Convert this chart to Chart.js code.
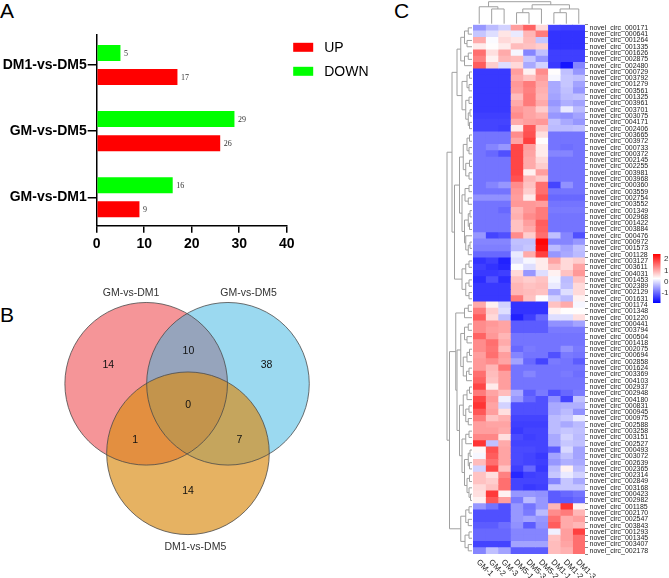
<!DOCTYPE html>
<html>
<head>
<meta charset="utf-8">
<script src="https://cdn.jsdelivr.net/npm/chart.js@4.4.1/dist/chart.umd.min.js"></script>
<style>
  html, body { margin: 0; padding: 0; background: #fff; width: 669px; height: 578px; overflow: hidden; }
  body { position: relative; font-family: "Liberation Sans", Arial, sans-serif; }
  canvas { position: absolute; }
  #chartA { left: 0; top: 0; }
  #chartB { left: 0; top: 278px; }
  #chartC { left: 340px; top: 0; }
  .tag { position: absolute; font-size: 21px; line-height: 21px; color: #000; }
</style>
</head>
<body>
<div class="tag" style="left:0px;top:0px;">A</div>
<div class="tag" style="left:0px;top:304px;">B</div>
<div class="tag" style="left:394px;top:0px;">C</div>
<canvas id="chartA" width="400" height="290"></canvas>
<canvas id="chartB" width="340" height="300"></canvas>
<canvas id="chartC" width="329" height="578"></canvas>
<script>
/*
|--------------------------------------------------------------------------
| Data
|--------------------------------------------------------------------------
*/

// Panel A: differential circRNA counts per comparison
const barCategories = ['DM1-vs-DM5', 'GM-vs-DM5', 'GM-vs-DM1'];
const upCounts = [17, 26, 9];
const downCounts = [5, 29, 16];

// Panel B: Venn diagram (set names, circle centres in radius units, region counts)
const vennSets = ['GM-vs-DM1', 'GM-vs-DM5', 'DM1-vs-DM5'];
const vennCentres = [{ x: 0, y: 0 }, { x: 1.006, y: 0 }, { x: 0.514, y: -0.855 }];
const vennRadius = 1;
const vennCounts = [14, 10, 38, 0, 1, 7, 14];
const vennCountPos = [
  { x: -0.465, y: 0.235 }, { x: 0.52, y: 0.405 }, { x: 1.48, y: 0.235 },
  { x: 0.515, y: -0.26 }, { x: -0.135, y: -0.69 }, { x: 1.148, y: -0.69 }, { x: 0.515, y: -1.32 }
];
const vennLabelPos = [{ x: -0.185, y: 1.12 }, { x: 1.259, y: 1.12 }, { x: 0.605, y: -2.012 }];

// Panel C: heatmap
const heatCols = ['GM-1', 'GM-2', 'GM-3', 'DM5-1', 'DM5-3', 'DM5-2', 'DM1-1', 'DM1-2', 'DM1-3'];
const heatRows = [
  '000171', '000641', '001264', '001335', '001626', '002875', '002480', '000729', '003792', '001279',
  '003561', '001325', '003961', '003701', '003075', '004171', '002406', '003665', '003972', '000733',
  '000372', '002145', '002255', '003981', '003968', '000360', '003559', '002754', '003552', '001349',
  '002968', '001422', '003884', '000476', '000972', '001573', '001128', '003127', '003611', '004031',
  '001453', '002389', '002129', '001631', '001174', '001348', '001220', '000441', '003794', '000504',
  '001418', '002075', '000694', '002858', '001624', '003369', '004103', '002937', '002948', '004180',
  '000831', '000945', '000975', '002588', '003258', '003151', '002527', '000493', '003072', '002639',
  '002365', '002314', '002849', '003168', '000423', '002982', '001185', '002170', '002547', '003843',
  '001293', '001345', '003407', '002178'
].map(id => 'novel_circ_' + id);

const heatValues = [
  [-0.6, -0.3, -0.1, 1.1, 1.6, 0.6, -1.3, -1.35, -1.35],
  [-0.2, 0, 0.5, 0.1, 0.9, 1.4, -1.45, -1.45, -1.45],
  [1.0, 0.25, 0.6, 0.5, 0.85, -0.2, -1.45, -1.45, -1.45],
  [0.45, 0.3, 0.45, 0.85, 0.8, 0.7, -1.45, -1.45, -1.45],
  [1.5, 0.55, 1.0, 0.2, -0.75, -0.25, -1.35, -1.35, -1.35],
  [1.35, 0.4, 0.9, 0.85, -0.2, -0.6, -1.35, -1.35, -1.35],
  [1.65, 0.7, 0.0, 0.6, -0.45, -0.1, -1.4, -1.7, -0.75],
  [-1.4, -1.4, -1.4, 1.1, 0.4, 1.25, 0.3, -0.25, -0.6],
  [-1.4, -1.4, -1.4, 1.0, 0.8, 1.1, 0.2, -0.2, -0.25],
  [-1.4, -1.4, -1.4, 1.15, 1.4, 1.0, -0.45, -0.2, -0.5],
  [-1.4, -1.4, -1.4, 1.1, 1.35, 0.95, -0.45, -0.25, -0.6],
  [-1.4, -1.4, -1.4, 0.85, 1.4, 0.9, -0.5, -0.3, -0.25],
  [-1.4, -1.4, -1.4, 1.0, 1.4, 1.0, -0.6, -0.4, -0.5],
  [-1.4, -1.4, -1.4, 1.15, 1.05, 0.7, -0.45, 0.1, -0.3],
  [-1.35, -1.35, -1.35, 1.25, 1.05, 0.95, -0.6, -0.65, -0.5],
  [-1.3, -1.3, -1.3, 1.0, 1.1, 1.15, -0.25, -0.45, -0.6],
  [-1.3, -1.3, -1.35, 0.45, 1.7, 0.8, -0.3, -0.3, -0.25],
  [-0.9, -0.9, -0.9, 1.25, 1.75, 0.55, -0.9, -0.9, -0.9],
  [-0.9, -0.9, -0.9, 1.05, 1.9, 0.3, -0.9, -0.9, -0.9],
  [-0.9, -0.75, -0.6, 1.85, 1.1, 0.45, -0.9, -0.95, -0.9],
  [-0.9, -1.0, -1.2, 1.85, 1.05, 0.45, -0.75, -0.75, -0.9],
  [-0.9, -0.9, -0.9, 1.85, 1.0, 0.6, -0.9, -0.9, -0.9],
  [-0.9, -0.9, -0.9, 1.85, 1.0, 0.7, -0.9, -0.9, -0.9],
  [-0.9, -0.9, -0.9, 1.85, 0.4, 1.1, -0.9, -0.9, -0.9],
  [-0.9, -0.9, -0.9, 1.75, 0.9, 0.75, -0.9, -0.9, -0.9],
  [-0.9, -0.75, -0.6, 1.25, 0.8, 1.5, -1.3, -0.65, -0.9],
  [-0.9, -0.9, -0.9, 1.15, 0.7, 1.5, -0.9, -0.9, -0.9],
  [-0.65, -0.65, -0.65, 1.1, 0.45, 1.7, -1.0, -1.0, -1.0],
  [-0.9, -0.9, -0.9, 1.15, 1.15, 1.1, -0.9, -0.9, -0.9],
  [-0.9, -0.9, -1.0, 0.9, 1.15, 1.4, -0.85, -0.85, -0.85],
  [-0.9, -0.9, -0.9, 0.95, 1.25, 1.4, -0.9, -0.9, -0.9],
  [-0.9, -0.9, -0.9, 0.8, 1.1, 1.65, -0.9, -0.9, -0.9],
  [-0.9, -0.9, -0.9, 0.8, 1.0, 1.6, -0.9, -0.9, -0.9],
  [-0.6, -1.3, -1.2, 1.25, 0.7, 1.5, -0.25, -0.75, -1.2],
  [-0.75, -0.75, -0.75, -0.25, -0.25, 2.4, -0.75, -0.75, -0.6],
  [-0.8, -0.8, -0.8, -0.3, -0.2, 2.3, -0.3, -0.5, -0.25],
  [-1.0, -1.0, -1.0, 0.1, 1.0, 1.9, -0.6, -0.45, -0.3],
  [-1.45, -1.35, -1.6, 0.0, 0.2, 0.45, 1.05, 0.6, 0.7],
  [-1.35, -1.45, -1.55, 0.25, 0.0, 0.45, 0.8, 0.6, 1.05],
  [-1.4, -1.4, -1.35, 0.6, -0.6, 0.0, 0.4, 0.8, 1.15],
  [-1.5, -1.2, -1.5, 0.8, 0.7, 0.8, 0.2, -0.3, 0.8],
  [-1.4, -1.4, -1.4, 0.9, 0.8, 0.85, 0.1, -0.25, 0.6],
  [-1.4, -1.4, -1.4, 0.9, 0.85, 0.8, -0.45, 0.0, 0.6],
  [-1.4, -1.4, -1.4, 1.4, 0.8, 0.3, -0.1, -0.3, 0.4],
  [1.0, 0.4, -0.1, -1.45, -1.45, -1.45, 0.8, 1.0, 0.2],
  [1.4, 0.7, 0.0, -1.45, -1.45, -1.45, 0.4, 0.3, 0.3],
  [1.65, 0.6, -0.3, -1.6, -1.35, -1.0, 0.0, 0.0, 0.55],
  [1.25, 1.15, 1.05, -1.1, -1.1, -1.1, -0.65, -0.65, -0.5],
  [1.25, 1.1, 1.05, -1.1, -1.1, -1.1, -0.85, -0.85, -0.85],
  [1.6, 1.15, 0.9, -0.9, -0.9, -0.9, -0.9, -0.9, -0.9],
  [1.25, 1.5, 1.0, -0.9, -0.9, -0.9, -0.9, -0.9, -0.9],
  [1.25, 1.45, 0.85, -1.0, -0.85, -0.9, -0.9, -0.65, -0.85],
  [1.1, 1.5, 1.1, -0.75, -0.9, -0.9, -1.2, -0.85, -0.9],
  [1.15, 1.25, 1.05, -0.5, -1.0, -1.3, -0.85, -0.9, -1.1],
  [1.15, 0.9, 1.45, -0.9, -0.9, -0.9, -0.9, -0.9, -0.9],
  [1.5, 0.85, 1.1, -0.9, -0.75, -0.9, -0.9, -0.85, -0.95],
  [1.6, 0.8, 1.1, -0.9, -0.9, -0.9, -0.9, -0.9, -0.9],
  [1.85, 0.45, 1.1, -0.9, -0.9, -0.9, -0.9, -0.9, -0.9],
  [1.4, 1.05, 0.85, -0.45, -1.1, -0.85, -1.2, -1.0, -0.85],
  [1.85, 1.15, 0.15, -0.6, -1.0, -1.2, -0.65, -1.3, -0.25],
  [2.0, 1.05, -0.1, -1.2, -1.2, -1.2, -0.45, -0.4, -0.4],
  [1.7, 1.1, 0.55, -1.2, -1.2, -1.2, -0.45, -0.3, -0.65],
  [1.4, 0.8, 0.95, -1.3, -1.3, -1.3, -0.3, -0.2, 0.1],
  [1.1, 1.05, 1.05, -1.35, -1.35, -1.35, -0.3, -0.45, -0.3],
  [1.1, 1.1, 1.0, -1.4, -1.3, -1.3, -0.3, -0.2, -0.25],
  [1.3, 1.3, 0.55, -1.25, -1.35, -1.3, -0.45, -0.1, -0.3],
  [2.0, -0.25, 1.0, -1.3, -1.3, -1.3, -0.45, -0.2, -0.25],
  [0.35, 1.75, 1.05, -1.25, -1.25, -1.3, -1.1, -0.05, -0.5],
  [0.2, 1.65, 1.05, -1.25, -1.3, -1.4, -0.5, -0.25, -0.5],
  [0.85, 1.5, 1.05, -1.25, -1.3, -1.35, -0.6, -0.4, -0.45],
  [-0.1, 1.85, 0.8, -1.35, -1.0, -1.4, -0.3, 0.4, -0.3],
  [0.8, 0.55, 1.35, -1.55, -1.35, -1.3, -0.2, 0.1, -0.1],
  [0.8, 0.7, 1.5, -1.3, -1.3, -1.3, -0.75, -0.2, -0.45],
  [0.6, 0.8, 1.5, -1.3, -1.4, -1.35, -0.2, -0.2, -0.2],
  [0.55, 1.95, 0.4, -0.6, -0.6, -0.65, -1.1, -1.0, -0.9],
  [0.4, 1.7, 1.1, -0.85, -0.3, -0.6, -1.1, -1.1, -1.0],
  [-0.6, -0.9, -1.2, -0.6, -0.9, -0.6, 0.9, 2.0, 0.4],
  [-1.2, -1.2, -1.2, -0.6, -0.85, -0.3, 1.25, 1.4, 0.9],
  [-1.2, -1.2, -1.2, -0.6, -0.5, -0.6, 1.5, 1.0, 1.1],
  [-1.1, -1.1, -0.95, -0.65, -1.1, -0.65, 1.65, 1.0, 0.9],
  [-1.0, -1.0, -1.0, -0.75, -0.75, -0.75, 0.15, 1.1, 1.9],
  [-1.0, -1.0, -1.0, -0.75, -0.75, -0.75, 0.8, 1.1, 1.5],
  [-1.3, -1.3, -1.3, -0.5, -0.5, -0.5, 0.85, 1.05, 1.5],
  [-0.75, -0.25, -0.5, -1.1, -1.1, -1.1, 0.85, 0.95, 1.5]
];

// Dendrograms: [mergeHeight, left, right], leaves are row / column indexes
const colTree = [1.0, [0.77, 0, [0.67, 1, 2]], [0.86, [0.67, [0.5, 3, 4], 5], [0.67, [0.5, 6, 7], 8]]];
const rowTree = [1.0,
  [0.8,
    [0.6,
      [0.45, [0.3, [0.15, 0, 1], [0.2, 2, 3]], [0.3, [0.15, 4, 5], 6]],
      [0.4, [0.2, [0.1, 7, 8], [0.12, 9, 10]], [0.25, [0.12, 11, 12], [0.15, [0.08, 13, 14], [0.1, 15, 16]]]]
    ],
    [0.7,
      [0.5,
        [0.35, [0.2, [0.1, 17, 18], [0.12, 19, 20]], [0.25, [0.1, 21, 22], [0.12, 23, 24]]],
        [0.4, [0.28, [0.12, 25, 26], [0.15, 27, 28]], [0.3, [0.15, [0.08, 29, 30], [0.1, 31, 32]], [0.25, 33, [0.15, [0.08, 34, 35], 36]]]]
      ],
      [0.4, [0.25, [0.12, 37, 38], 39], [0.25, [0.12, 40, 41], [0.12, 42, 43]]]
    ]
  ],
  [0.9,
    [0.65,
      [0.3, [0.15, 44, 45], 46],
      [0.6,
        [0.45, [0.3, [0.15, 47, 48], [0.2, 49, 50]], [0.35, [0.2, [0.1, 51, 52], 53], [0.22, [0.12, 54, 55], 56]]],
        [0.5,
          [0.35, [0.2, [0.1, 57, 58], 59], [0.25, [0.12, 60, 61], [0.15, 62, 63]]],
          [0.4, [0.25, [0.12, 64, 65], 66], [0.3, [0.15, [0.08, 67, 68], [0.1, 69, 70]], [0.2, [0.1, 71, 72], [0.12, 73, [0.06, 74, 75]]]]]
        ]
      ]
    ],
    [0.45, [0.25, [0.12, 76, 77], [0.15, 78, 79]], [0.28, [0.12, 80, 81], [0.15, 82, 83]]]
  ]
];

// Colour key range and labels
const scaleMin = -1.88;
const scaleMax = 2.44;
const legendTicks = [2, 1, 0, -1];

/*
|--------------------------------------------------------------------------
| Helpers
|--------------------------------------------------------------------------
*/
Chart.defaults.font.family = '"Liberation Sans", Arial, sans-serif';

function heatColor(v) {
  const mid = (scaleMin + scaleMax) / 2;
  if (v <= mid) {
    const t = Math.max(0, (v - scaleMin) / (mid - scaleMin));
    const c = Math.round(255 * t);
    return `rgb(${c},${c},255)`;
  }
  const t = Math.min(1, (v - mid) / (scaleMax - mid));
  const c = Math.round(255 * (1 - t));
  return `rgb(255,${c},${c})`;
}

// Draws a dendrogram node recursively, returns {p, h} of the node
function drawTree(ctx, node, leafPos, depthPos, vertical) {
  if (typeof node === 'number') return { p: leafPos(node), h: 0 };
  const a = drawTree(ctx, node[1], leafPos, depthPos, vertical);
  const b = drawTree(ctx, node[2], leafPos, depthPos, vertical);
  const d = depthPos(node[0]);
  const seg = (p1, d1, p2, d2) => {
    if (vertical) { ctx.moveTo(p1, d1); ctx.lineTo(p2, d2); }
    else { ctx.moveTo(d1, p1); ctx.lineTo(d2, p2); }
  };
  seg(a.p, depthPos(a.h), a.p, d);
  seg(b.p, depthPos(b.h), b.p, d);
  seg(a.p, d, b.p, d);
  return { p: (a.p + b.p) / 2, h: node[0] };
}

/*
|--------------------------------------------------------------------------
| Panel A: horizontal bars
|--------------------------------------------------------------------------
*/
const barExtras = {
  id: 'barExtras',
  afterDatasetsDraw(chart) {
    const { ctx, chartArea } = chart;
    ctx.save();
    ctx.font = '8px "Liberation Serif", serif';
    ctx.fillStyle = '#333';
    ctx.textBaseline = 'middle';
    chart.data.datasets.forEach((ds, di) => {
      chart.getDatasetMeta(di).data.forEach((bar, i) => {
        ctx.fillText(String(ds.data[i].x), bar.x + 3.5, bar.y + 0.5);
      });
    });
    // Legend (UP first, like the original)
    const items = [chart.data.datasets[1], chart.data.datasets[0]];
    ctx.font = '14px "Liberation Sans", Arial, sans-serif';
    items.forEach((ds, i) => {
      const y = chartArea.top + 8.5 + i * 24;
      ctx.fillStyle = ds.backgroundColor;
      ctx.fillRect(chartArea.right + 6.5, y, 20, 9);
      ctx.fillStyle = '#000';
      ctx.fillText(ds.label, chartArea.right + 37.5, y + 5);
    });
    ctx.restore();
  }
};

new Chart(document.getElementById('chartA'), {
  type: 'bar',
  data: {
    datasets: [
      { label: 'DOWN', data: downCounts.map((v, i) => ({ x: v, y: i })), backgroundColor: '#00ff00' },
      { label: 'UP', data: upCounts.map((v, i) => ({ x: v, y: i })), backgroundColor: '#ff0000' }
    ]
  },
  options: {
    indexAxis: 'y',
    responsive: false,
    animation: false,
    events: [],
    categoryPercentage: 0.727,
    barPercentage: 0.667,
    layout: { padding: { top: 34.3, right: 113.3, left: 0, bottom: 0 } },
    plugins: { legend: { display: false }, tooltip: { enabled: false } },
    scales: {
      x: {
        type: 'linear', min: 0, max: 40,
        afterFit: scale => { scale.height = 64.3; },
        ticks: { stepSize: 10, color: '#000', padding: 3, font: { size: 14, weight: 'bold' } },
        grid: { drawOnChartArea: false, color: '#000', lineWidth: 1.5, tickLength: 7 },
        border: { color: '#000', width: 1.5 }
      },
      y: {
        type: 'linear', reverse: true, offset: false, min: -0.464, max: 2.43,
        afterFit: scale => { scale.width = 96.7; },
        afterBuildTicks: scale => {
          scale.ticks = barCategories.map((c, i) => ({ value: i }));
        },
        ticks: {
          color: '#000', padding: 1,
          font: { size: 14, weight: 'bold' },
          callback: v => barCategories[v] ?? ''
        },
        grid: { offset: false, drawOnChartArea: false, color: '#000', lineWidth: 1.5, tickLength: 9 },
        border: { color: '#000', width: 1.5 }
      }
    }
  },
  plugins: [barExtras]
});

/*
|--------------------------------------------------------------------------
| Panel B: Venn diagram
|--------------------------------------------------------------------------
*/
const vennColors = ['rgba(236,44,50,0.5)', 'rgba(55,179,225,0.5)', 'rgba(218,140,21,0.67)'];

// Circles drawn at each dataset point, radius converted through the x scale
const vennDraw = {
  id: 'vennDraw',
  afterDatasetsDraw(chart) {
    const { ctx, scales: { x, y } } = chart;
    const rPx = Math.abs(x.getPixelForValue(vennRadius) - x.getPixelForValue(0));
    ctx.save();
    chart.data.datasets.forEach((ds, i) => {
      const pt = chart.getDatasetMeta(i).data[0];
      ctx.beginPath();
      ctx.arc(pt.x, pt.y, rPx, 0, Math.PI * 2);
      ctx.fillStyle = ds.backgroundColor;
      ctx.fill();
    });
    ctx.strokeStyle = '#4a4a4a';
    ctx.lineWidth = 0.8;
    chart.data.datasets.forEach((ds, i) => {
      const pt = chart.getDatasetMeta(i).data[0];
      ctx.beginPath();
      ctx.arc(pt.x, pt.y, rPx, 0, Math.PI * 2);
      ctx.stroke();
    });

    ctx.textAlign = 'center';
    ctx.textBaseline = 'middle';
    ctx.font = '10.5px "Liberation Sans", Arial, sans-serif';
    ctx.fillStyle = '#111';
    vennCounts.forEach((n, i) => {
      ctx.fillText(String(n), x.getPixelForValue(vennCountPos[i].x), y.getPixelForValue(vennCountPos[i].y));
    });
    ctx.fillStyle = '#333';
    vennSets.forEach((name, i) => {
      ctx.fillText(name, x.getPixelForValue(vennLabelPos[i].x), y.getPixelForValue(vennLabelPos[i].y));
    });
    ctx.restore();
  }
};

new Chart(document.getElementById('chartB'), {
  type: 'scatter',
  data: {
    datasets: vennSets.map((name, i) => ({
      label: name,
      data: [vennCentres[i]],
      backgroundColor: vennColors[i],
      pointRadius: 0
    }))
  },
  options: {
    responsive: false,
    animation: false,
    events: [],
    layout: { padding: 0 },
    plugins: { legend: { display: false }, tooltip: { enabled: false } },
    scales: {
      x: { type: 'linear', min: -1.798, max: 2.384, display: false },
      y: { type: 'linear', min: -2.389, max: 1.301, display: false }
    }
  },
  plugins: [vennDraw]
});

/*
|--------------------------------------------------------------------------
| Panel C: clustered heatmap
|--------------------------------------------------------------------------
*/
const heatExtras = {
  id: 'heatExtras',
  afterDatasetsDraw(chart) {
    const { ctx, chartArea, scales: { x, y } } = chart;
    ctx.save();

    // Dendrograms
    ctx.strokeStyle = '#a0a0a0';
    ctx.lineWidth = 1;
    ctx.beginPath();
    drawTree(ctx, rowTree, i => y.getPixelForValue(i), h => chartArea.left - 1 - h * 25, false);
    drawTree(ctx, colTree, i => x.getPixelForValue(i + 0.5), h => chartArea.top - 1 - h * 22, true);
    ctx.stroke();

    // Column labels, rotated downwards
    ctx.fillStyle = '#222';
    ctx.font = '8px "Liberation Sans", Arial, sans-serif';
    ctx.textAlign = 'left';
    ctx.textBaseline = 'middle';
    heatCols.forEach((name, c) => {
      ctx.save();
      ctx.translate(x.getPixelForValue(c + 0.5) - 1.5, chartArea.bottom + 7);
      ctx.rotate(Math.PI / 4);
      ctx.fillText(name, 0, 0);
      ctx.restore();
    });

    // Colour key
    const keyX = 313, keyTop = 254, keyBottom = 303;
    const keyPos = v => keyBottom - (v - scaleMin) / (scaleMax - scaleMin) * (keyBottom - keyTop);
    const grad = ctx.createLinearGradient(0, keyTop, 0, keyBottom);
    grad.addColorStop(0, heatColor(scaleMax));
    grad.addColorStop(0.5, heatColor((scaleMin + scaleMax) / 2));
    grad.addColorStop(1, heatColor(scaleMin));
    ctx.fillStyle = grad;
    ctx.fillRect(keyX, keyTop, 7.5, keyBottom - keyTop);
    ctx.fillStyle = '#333';
    ctx.font = '8px "Liberation Sans", Arial, sans-serif';
    ctx.textAlign = 'right';
    legendTicks.forEach(v => ctx.fillText(String(v), 328.5, keyPos(v)));
    ctx.restore();
  }
};

new Chart(document.getElementById('chartC'), {
  type: 'bar',
  data: {
    labels: heatRows,
    datasets: heatCols.map((col, c) => ({
      label: col,
      data: heatRows.map(() => [c, c + 1]),
      backgroundColor: heatValues.map(row => heatColor(row[c])),
      borderWidth: 0,
      inflateAmount: 0.4,
      barPercentage: 1,
      categoryPercentage: 1,
      grouped: false
    }))
  },
  options: {
    indexAxis: 'y',
    responsive: false,
    animation: false,
    events: [],
    layout: { padding: { left: 133, top: 24.7, bottom: 24, right: 0 } },
    plugins: { legend: { display: false }, tooltip: { enabled: false } },
    scales: {
      x: { type: 'linear', min: 0, max: 9, display: false },
      y: {
        position: 'right',
        afterFit: scale => { scale.width = 84; },
        ticks: { autoSkip: false, color: '#222', padding: 1.5, font: { size: 7 } },
        grid: { drawOnChartArea: false, color: '#888', tickLength: 3 },
        border: { display: false }
      }
    }
  },
  plugins: [heatExtras]
});
</script>
</body>
</html>
